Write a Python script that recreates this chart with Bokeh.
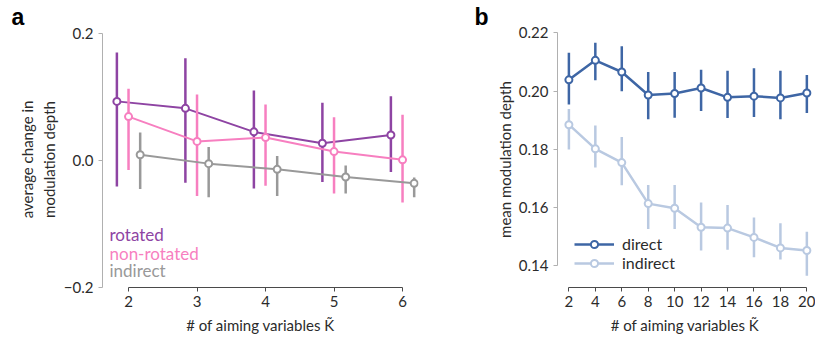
from bokeh.plotting import figure
from bokeh.layouts import row
from bokeh.models import (ColumnDataSource, FixedTicker, CustomJSTickFormatter, Label,
                          Legend, LegendItem, Range1d)
from bokeh.transform import dodge
from bokeh.embed import file_html
from bokeh.resources import INLINE

# ---------------- data: panel a ----------------
k_a = [2, 3, 4, 5, 6]
rot_mean = [0.093, 0.082, 0.045, 0.027, 0.040]
rot_lo = [-0.041, -0.035, -0.044, -0.034, -0.018]
rot_hi = [0.170, 0.161, 0.110, 0.091, 0.101]
nonrot_mean = [0.069, 0.030, 0.036, 0.014, 0.001]
nonrot_lo = [-0.015, -0.056, -0.040, -0.052, -0.066]
nonrot_hi = [0.113, 0.104, 0.088, 0.068, 0.072]
indA_mean = [0.009, -0.005, -0.014, -0.026, -0.036]
indA_lo = [-0.045, -0.058, -0.056, -0.052, -0.058]
indA_hi = [0.044, 0.021, 0.007, -0.008, -0.027]
ticks_ax = [2, 3, 4, 5, 6]
ticks_ay = [-0.2, 0.0, 0.2]

# ---------------- data: panel b ----------------
k_b = [2, 4, 6, 8, 10, 12, 14, 16, 18, 20]
dir_mean = [0.2039, 0.2106, 0.2066, 0.1987, 0.1992, 0.2011, 0.1979, 0.1983, 0.1977, 0.1994]
dir_lo = [0.1954, 0.2038, 0.2000, 0.1904, 0.1909, 0.1932, 0.1908, 0.1911, 0.1904, 0.1925]
dir_hi = [0.2132, 0.2166, 0.2154, 0.2066, 0.2066, 0.2074, 0.2070, 0.2079, 0.2070, 0.2056]
indB_mean = [0.1885, 0.1802, 0.1755, 0.1614, 0.1598, 0.1533, 0.1530, 0.1498, 0.1462, 0.1453]
indB_lo = [0.1800, 0.1738, 0.1677, 0.1527, 0.1527, 0.1453, 0.1456, 0.1430, 0.1422, 0.1366]
indB_hi = [0.1939, 0.1882, 0.1843, 0.1678, 0.1678, 0.1618, 0.1609, 0.1566, 0.1547, 0.1517]
ticks_bx = [2, 4, 6, 8, 10, 12, 14, 16, 18, 20]
ticks_by = [0.14, 0.16, 0.18, 0.20, 0.22]

PURPLE = "#8e44a3"
PINK = "#f77fc0"
GRAY = "#999999"
BLUE = "#3e66a5"
LBLUE = "#b9c9e1"
FONT = "Lato"
TXT = "#2b2b2b"


def style(p, xticks, yticks, xfmt, yfmt, xb, yb, ylab_standoff):
    p.grid.visible = False
    p.outline_line_color = None
    p.background_fill_color = "white"
    p.border_fill_color = "white"
    for ax in (p.xaxis[0], p.yaxis[0]):
        ax.major_tick_in = 0
        ax.major_tick_out = 4
        ax.minor_tick_line_color = None
        ax.major_label_text_font = FONT
        ax.major_label_text_font_size = "15px"
        ax.major_label_text_color = TXT
        ax.axis_label_text_font = FONT
        ax.axis_label_text_font_size = "15px"
        ax.axis_label_text_font_style = "normal"
        ax.axis_label_text_color = TXT
        ax.axis_line_width = 1
    p.xaxis[0].ticker = FixedTicker(ticks=xticks)
    p.yaxis[0].ticker = FixedTicker(ticks=yticks)
    p.xaxis[0].formatter = CustomJSTickFormatter(code="return tick.toFixed(%d)" % xfmt)
    p.yaxis[0].formatter = CustomJSTickFormatter(
        code="return tick.toFixed(%d).replace('-', '\\u2212')" % yfmt)
    p.xaxis[0].bounds = xb
    p.yaxis[0].bounds = yb
    p.xaxis[0].axis_line_color = "#4a4a4a"
    p.xaxis[0].major_tick_line_color = "#4a4a4a"
    p.yaxis[0].axis_line_color = "#b0b0b0"
    p.yaxis[0].major_tick_line_color = "#b0b0b0"
    p.xaxis[0].major_label_standoff = 4
    p.yaxis[0].major_label_standoff = 5
    p.xaxis[0].axis_label_standoff = 6
    p.yaxis[0].axis_label_standoff = ylab_standoff


def panel_letter(p, letter, offset):
    p.title.text = letter
    p.title.text_font = "Liberation Sans"
    p.title.text_font_style = "bold"
    p.title.text_font_size = "23px"
    p.title.text_color = "black"
    p.title.align = "left"
    p.title.vertical_align = "top"
    p.title.offset = offset
    p.title.standoff = 0


def series(p, k, mean, lo, hi, color, shift, lw=2, ew=2.5):
    src = ColumnDataSource(dict(k=k, m=mean, lo=lo, hi=hi))
    xs = dodge("k", shift)
    eb = p.segment(x0=xs, y0="lo", x1=xs, y1="hi", source=src, line_color=color, line_width=ew)
    ln = p.line(x=xs, y="m", source=src, line_color=color, line_width=lw)
    mk = p.scatter(x=xs, y="m", source=src, marker="circle", size=7, line_color=color,
                   line_width=2, fill_color="white")
    return eb, ln, mk


# ---------------- panel a ----------------
pa = figure(width=420, height=350, x_range=Range1d(1.62, 6.233), y_range=Range1d(-0.2, 0.203),
            output_backend="svg", toolbar_location=None,
            min_border_left=102, min_border_right=2, min_border_top=31, min_border_bottom=63)
style(pa, ticks_ax, ticks_ay, 0, 1, (2, 6), (-0.2, 0.2), 3)
panel_letter(pa, "a", -91)
pa.xaxis.axis_label = "# of aiming variables K\u0303"
pa.yaxis.axis_label = "average change in\nmodulation depth"

series(pa, k_a, rot_mean, rot_lo, rot_hi, PURPLE, -0.17)
series(pa, k_a, nonrot_mean, nonrot_lo, nonrot_hi, PINK, 0.0)
series(pa, k_a, indA_mean, indA_lo, indA_hi, GRAY, 0.17)

for txt, col, yy in (("rotated", PURPLE, 53), ("non-rotated", PINK, 34.5), ("indirect", GRAY, 17)):
    pa.add_layout(Label(x=7, y=yy, x_units="screen", y_units="screen", text=txt,
                        text_color=col, text_font=FONT, text_font_size="17px",
                        text_baseline="alphabetic"))

# ---------------- panel b ----------------
pb = figure(width=395, height=350, x_range=Range1d(1.138, 20.427), y_range=Range1d(0.1326, 0.2205),
            output_backend="svg", toolbar_location=None,
            min_border_left=137, min_border_right=3, min_border_top=30, min_border_bottom=61)
style(pb, ticks_bx, ticks_by, 0, 2, (2, 20), (0.14, 0.22), 2)
panel_letter(pb, "b", -83)
pb.xaxis.axis_label = "# of aiming variables K\u0303"
pb.yaxis.axis_label = "mean modulation depth"

d_eb, d_ln, d_mk = series(pb, k_b, dir_mean, dir_lo, dir_hi, BLUE, 0.0, lw=2.5, ew=2.5)
i_eb, i_ln, i_mk = series(pb, k_b, indB_mean, indB_lo, indB_hi, LBLUE, 0.0, lw=2.5, ew=2.5)

leg = Legend(items=[LegendItem(label="direct", renderers=[d_ln, d_mk]),
                    LegendItem(label="indirect", renderers=[i_ln, i_mk])],
             location=(17, 15), glyph_width=40, glyph_height=18, label_height=18,
             label_standoff=8, spacing=0, padding=0, margin=0,
             border_line_color=None, background_fill_alpha=0,
             label_text_font=FONT, label_text_font_size="16px", label_text_color=TXT)
pb.add_layout(leg)

layout = row(pa, pb, spacing=0)
open("out.html", "w").write(file_html(layout, INLINE))
